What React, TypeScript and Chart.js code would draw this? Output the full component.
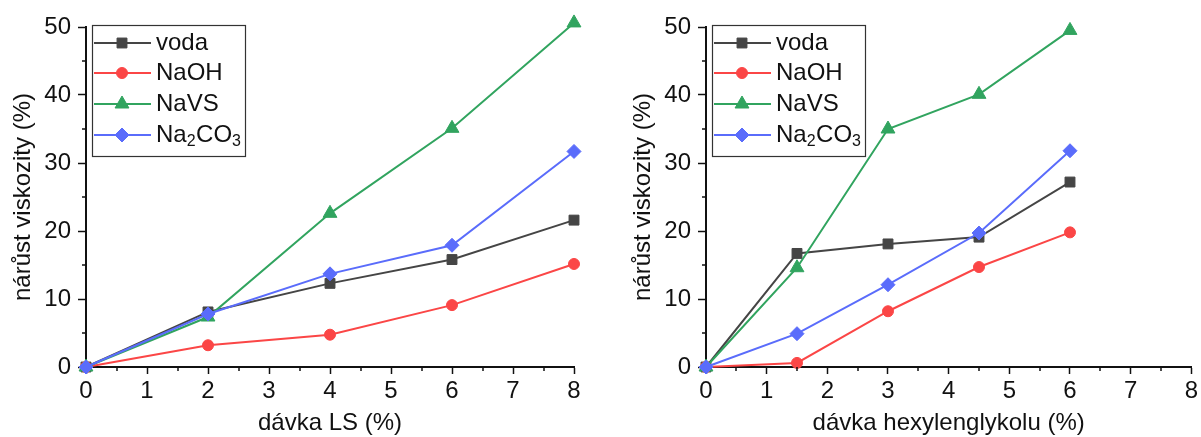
import React, { useEffect, useRef } from "react";
import { Chart, registerables } from "chart.js";
import { drawPoint } from "chart.js/helpers";

Chart.register(...registerables);

// ---- data ----
const seriesNames = ["voda", "NaOH", "NaVS", "Na2CO3"];

const lsDose = [0, 2, 4, 6, 8];
const lsVoda = [0, 8.1, 12.3, 15.8, 21.6];
const lsNaOH = [0, 3.2, 4.75, 9.1, 15.15];
const lsNaVS = [0, 7.35, 22.6, 35.1, 50.6];
const lsNa2CO3 = [0, 7.8, 13.7, 17.9, 31.7];

const hgDose = [0, 1.5, 3, 4.5, 6];
const hgVoda = [0, 16.7, 18.1, 19.1, 27.2];
const hgNaOH = [0, 0.6, 8.2, 14.7, 19.8];
const hgNaVS = [0, 14.6, 35.0, 40.1, 49.5];
const hgNa2CO3 = [0, 4.9, 12.1, 19.7, 31.8];

const yTitle = "nárůst viskozity (%)";
const xTitleLS = "dávka LS (%)";
const xTitleHG = "dávka hexylenglykolu (%)";

// ---- styles ----
const colors = ["#454545", "#fb4646", "#31a45f", "#5a6cfb"];
const markers = ["rect", "circle", "triangle", "rectRot"];
const radii = [7, 5.5, 8, 7];
const FONT = "'Liberation Sans', Arial, sans-serif";

function legendParts(label: string): [string, boolean][] {
  if (label !== "Na2CO3") return [[label, false]];
  return label
    .split(/(\d+)/)
    .filter((s) => s.length > 0)
    .map((s) => [s, /^\d+$/.test(s)] as [string, boolean]);
}

function drawMarker(ctx: any, style: string, r: number, x: number, y: number) {
  drawPoint(ctx, { pointStyle: style, radius: r, rotation: 0, borderWidth: 1 } as any, x, y);
}

const ROWS = [43, 73, 104, 135];

const decorPlugin = {
  id: "decor",
  afterDraw(chart: any) {
    const ctx = chart.ctx;
    const area = chart.chartArea;
    const xs = chart.scales.x;
    const ys = chart.scales.y;
    ctx.save();
    // minor ticks
    ctx.strokeStyle = "#111";
    ctx.lineWidth = 1.5;
    ctx.beginPath();
    for (let i = 0; i < ys.ticks.length - 1; i++) {
      const v = (ys.ticks[i].value + ys.ticks[i + 1].value) / 2;
      const p = Math.round(ys.getPixelForValue(v));
      ctx.moveTo(area.left - 4, p);
      ctx.lineTo(area.left, p);
    }
    for (let i = 0; i < xs.ticks.length - 1; i++) {
      const v = (xs.ticks[i].value + xs.ticks[i + 1].value) / 2;
      const p = Math.round(xs.getPixelForValue(v));
      ctx.moveTo(p, area.bottom);
      ctx.lineTo(p, area.bottom + 4);
    }
    ctx.stroke();

    // legend box
    const bx = area.left + 6;
    const by = 25;
    const bw = 153;
    const bh = 131;
    ctx.fillStyle = "#ffffff";
    ctx.fillRect(bx, by, bw, bh);
    ctx.strokeStyle = "#333";
    ctx.lineWidth = 1.2;
    ctx.strokeRect(bx + 0.5, by + 0.5, bw, bh);

    chart.data.datasets.forEach((ds: any, i: number) => {
      const y = ROWS[i];
      ctx.strokeStyle = ds.borderColor;
      ctx.lineWidth = 2;
      ctx.beginPath();
      ctx.moveTo(bx + 2, y);
      ctx.lineTo(bx + 59, y);
      ctx.stroke();
      ctx.fillStyle = ds.pointBackgroundColor;
      ctx.strokeStyle = ds.pointBorderColor;
      ctx.lineWidth = 1;
      drawMarker(ctx, ds.pointStyle, ds.pointRadius, bx + 30, y);
      ctx.fillStyle = "#111";
      ctx.textBaseline = "middle";
      ctx.textAlign = "left";
      let tx = bx + 64;
      legendParts(ds.label).forEach(([s, sub]) => {
        ctx.font = sub ? `16px ${FONT}` : `24px ${FONT}`;
        ctx.fillText(s, tx, sub ? y + 7 : y);
        tx += ctx.measureText(s).width + (sub ? 0.5 : 0);
      });
    });
    ctx.restore();
  },
};

type PanelProps = {
  dose: number[];
  series: number[][];
  xTitle: string;
  width: number;
  padLeft: number;
  padRight: number;
};

function Panel({ dose, series, xTitle, width, padLeft, padRight }: PanelProps) {
  const ref = useRef<HTMLCanvasElement | null>(null);
  useEffect(() => {
    if (!ref.current) return;
    const datasets = series.map((vals, i) => ({
      label: seriesNames[i],
      data: vals.map((v, k) => ({ x: dose[k], y: v })),
      showLine: true,
      borderColor: colors[i],
      backgroundColor: colors[i],
      pointBackgroundColor: colors[i],
      pointBorderColor: colors[i],
      pointStyle: markers[i],
      pointRadius: radii[i],
      pointBorderWidth: 1,
      borderWidth: 2,
      clip: false,
      order: 3 - i,
    }));
    const chart = new Chart(ref.current, {
      type: "scatter",
      data: { datasets } as any,
      plugins: [decorPlugin],
      options: {
        animation: false,
        responsive: false,
        layout: { padding: { left: padLeft, right: padRight, top: 27, bottom: 0 } },
        plugins: { legend: { display: false }, tooltip: { enabled: false } },
        scales: {
          x: {
            type: "linear",
            min: 0,
            max: 8,
            afterFit: (s: any) => {
              s.height = 70;
            },
            ticks: {
              stepSize: 1,
              autoSkip: false,
              maxRotation: 0,
              padding: 3,
              color: "#111",
              font: { family: FONT, size: 24 },
            },
            grid: {
              drawOnChartArea: false,
              drawTicks: true,
              tickLength: 7,
              tickWidth: 1.5,
              tickColor: "#111",
              color: "#111",
            },
            border: { display: true, color: "#111", width: 2 },
            title: {
              display: true,
              text: xTitle,
              color: "#111",
              font: { family: FONT, size: 24 },
              padding: { top: 0, bottom: -1 },
            },
          },
          y: {
            type: "linear",
            min: 0,
            max: 50,
            afterFit: (s: any) => {
              s.width = 86;
            },
            ticks: {
              stepSize: 10,
              autoSkip: false,
              padding: 7,
              color: "#111",
              font: { family: FONT, size: 24 },
            },
            grid: {
              drawOnChartArea: false,
              drawTicks: true,
              tickLength: 8,
              tickWidth: 1.5,
              tickColor: "#111",
              color: "#111",
            },
            border: { display: true, color: "#111", width: 2 },
            title: {
              display: true,
              text: yTitle,
              color: "#111",
              font: { family: FONT, size: 24 },
              padding: { top: 9, bottom: 0 },
            },
          },
        },
      } as any,
    });
    return () => chart.destroy();
  }, []);
  return (
    <canvas
      ref={ref}
      width={width}
      height={437}
      style={{ width: width + "px", height: "437px", display: "block" }}
    />
  );
}

export default function App() {
  return (
    <div
      style={{
        position: "absolute",
        left: 0,
        top: 0,
        width: 1201,
        height: 437,
        display: "flex",
        background: "#fff",
      }}
    >
      <Panel
        dose={lsDose}
        series={[lsVoda, lsNaOH, lsNaVS, lsNa2CO3]}
        xTitle={xTitleLS}
        width={600}
        padLeft={0}
        padRight={26}
      />
      <Panel
        dose={hgDose}
        series={[hgVoda, hgNaOH, hgNaVS, hgNa2CO3]}
        xTitle={xTitleHG}
        width={601}
        padLeft={20}
        padRight={8}
      />
    </div>
  );
}
